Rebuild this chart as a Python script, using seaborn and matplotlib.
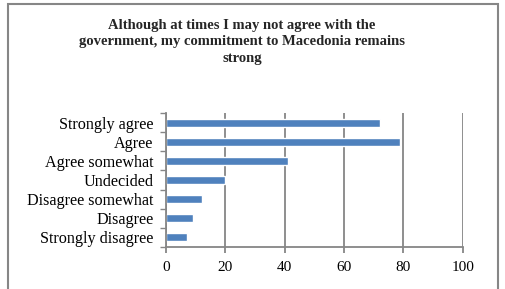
import pandas as pd
import matplotlib
matplotlib.use("Agg")
import matplotlib.pyplot as plt
from matplotlib.patches import Rectangle
from matplotlib.ticker import FixedLocator
import seaborn as sns

# Survey responses (percent)
categories = ["Strongly agree", "Agree", "Agree somewhat", "Undecided",
              "Disagree somewhat", "Disagree", "Strongly disagree"]
values = [72, 79, 41, 20, 12, 9, 7]
x_ticks = [0, 20, 40, 60, 80, 100]
title = ("Although at times I may not agree with the\n"
         "government, my commitment to Macedonia remains\n"
         "strong")

sns.set_theme(style="white")
plt.rcParams['font.family'] = ['Liberation Serif', 'DejaVu Serif']

grey = "#868686"
df = pd.DataFrame({"answer": categories, "pct": values})

fig = plt.figure(figsize=(5.05, 2.89), dpi=100)
ax = fig.add_axes([166 / 505, 1 - 246.7 / 289, (462.7 - 166) / 505, (246.7 - 113.3) / 289])

sns.barplot(data=df, y="answer", x="pct", orient="h", color="#4F81BD",
            width=0.4, saturation=1, ax=ax)

ax.set_xlim(0, 100)
ax.set_ylim(len(categories) - 0.5, -0.5)
ax.set_xticks(x_ticks)
ax.set_xticklabels([str(t) for t in x_ticks])
ax.set_xlabel("")
ax.set_ylabel("")

# vertical gridlines
ax.grid(axis="x", color=grey, linewidth=1.3)
ax.grid(axis="y", visible=False)
ax.set_axisbelow(True)

for side in ["top", "right"]:
    ax.spines[side].set_visible(False)
for side in ["left", "bottom"]:
    ax.spines[side].set_color(grey)
    ax.spines[side].set_linewidth(1.3)

# Excel-style ticks: category boundaries on the y axis
ax.yaxis.set_minor_locator(FixedLocator([i - 0.5 for i in range(len(categories) + 1)]))
ax.tick_params(axis="y", which="major", length=0, pad=9, labelsize=11.6, labelcolor="black")
ax.tick_params(axis="y", which="minor", left=True, length=4, width=1, color=grey)
ax.tick_params(axis="x", which="major", bottom=True, length=4, width=1.3, color=grey,
               pad=6, labelsize=11, labelcolor="black")

fig.text(242 / 505, 1 - 42 / 289, title, ha="center", va="center",
         fontsize=10.5, fontweight="bold", linespacing=1.38)

# chart frame
fig.patches.append(Rectangle((8 / 505, -0.2), (498 - 8) / 505, 1.2 - 4 / 289,
                             transform=fig.transFigure, fill=False,
                             edgecolor=grey, linewidth=1.5))

fig.savefig("out.png", dpi=100)
